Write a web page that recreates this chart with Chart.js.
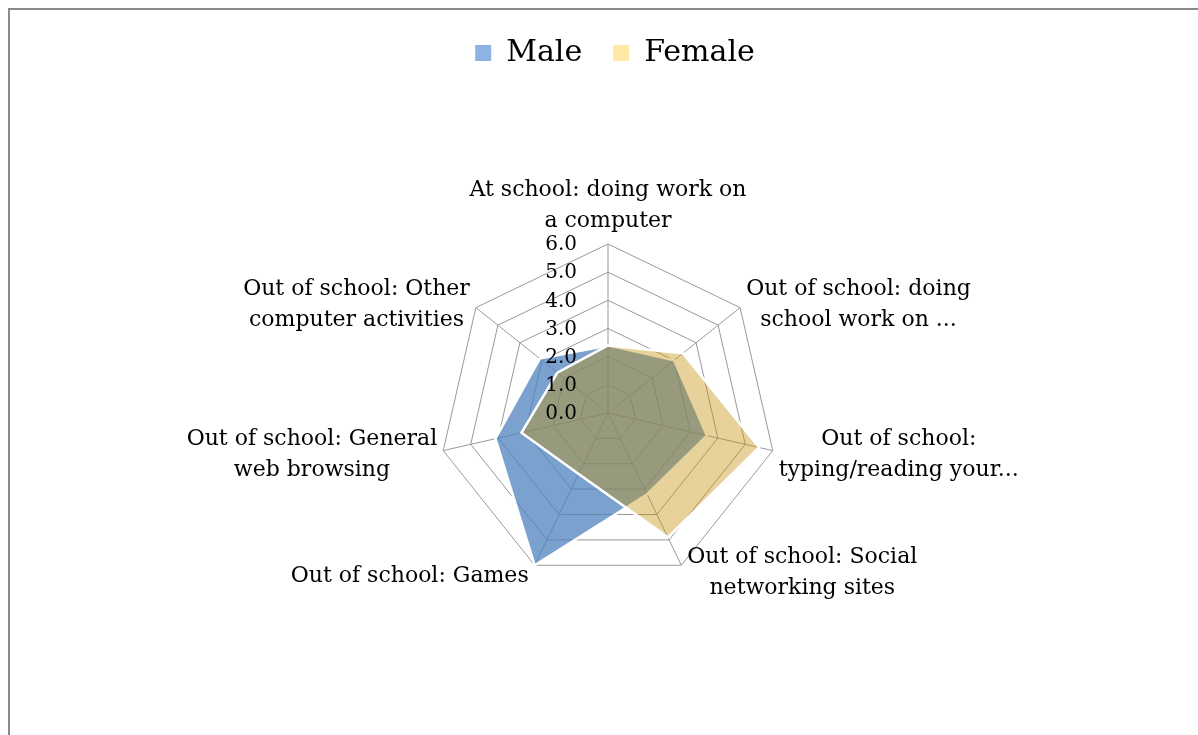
<!DOCTYPE html>
<html><head><meta charset="utf-8">
<script src="https://cdn.jsdelivr.net/npm/chart.js@4.4.0/dist/chart.umd.min.js"></script>
<style>
html,body{margin:0;padding:0;background:#fff;overflow:hidden;width:1198px;height:735px;}
#frame{position:absolute;left:8px;top:8px;width:1200px;height:740px;border-left:2px solid #8a8a8a;border-top:2px solid #8a8a8a;}
#wrap{position:absolute;left:0;top:0;width:1198px;height:735px;}
</style></head><body>
<div id="frame"></div>
<div id="wrap"><canvas id="c"></canvas></div>
<script>
const categories = [
  ['At school: doing work on', 'a computer'],
  ['Out of school: doing', 'school work on ...'],
  ['Out of school:', 'typing/reading your...'],
  ['Out of school: Social', 'networking sites'],
  ['Out of school: Games'],
  ['Out of school: General', 'web browsing'],
  ['Out of school: Other', 'computer activities']
];
const seriesNames = ['Male', 'Female'];
const maleValues = [2.4, 3.0, 3.6, 3.2, 6.0, 4.1, 3.1];
const femaleValues = [2.4, 3.4, 5.5, 4.9, 2.4, 3.15, 2.3];
const tickLabels = ['0.0', '1.0', '2.0', '3.0', '4.0', '5.0', '6.0'];

const legendColors = ['#8eb4e3', '#ffe9a6'];
const labelYOffsets = [-38, -3, 4, 8, 11, 4, -3];
const SERIF = '"DejaVu Serif", serif';

const customLabels = {
  id: 'customLabels',
  afterDraw(chart) {
    const s = chart.scales.r;
    const ctx = chart.ctx;
    ctx.save();
    ctx.fillStyle = '#000';
    ctx.font = '20px ' + SERIF;
    ctx.textAlign = 'right';
    ctx.textBaseline = 'middle';
    s.ticks.forEach((t, i) => {
      const d = s.getDistanceFromCenterForValue(t.value);
      ctx.fillText(tickLabels[i] ?? t.value.toFixed(1), s.xCenter - 31, s.yCenter - d + 1);
    });
    ctx.font = '22px ' + SERIF;
    ctx.textAlign = 'center';
    const lh = 31;
    chart.data.labels.forEach((lines, i) => {
      const p = s.getPointPosition(i, s.drawingArea);
      const ang = s.getIndexAngle(i);
      const sn = Math.sin(ang);
      const w = Math.max(...lines.map(l => ctx.measureText(l).width));
      let cx;
      if (Math.abs(sn) < 0.2) cx = p.x;
      else if (sn > 0) cx = p.x + 6 + w / 2;
      else cx = p.x - 6 - w / 2;
      const cy = p.y + labelYOffsets[i];
      const h = lines.length * lh;
      lines.forEach((l, j) => ctx.fillText(l, cx, cy - h / 2 + lh / 2 + j * lh));
    });
    ctx.restore();
  }
};

new Chart(document.getElementById('c'), {
  type: 'radar',
  data: {
    labels: categories,
    datasets: [
      {
        label: seriesNames[0],
        data: maleValues,
        backgroundColor: 'rgba(79,129,189,0.75)',
        borderColor: '#ffffff',
        borderWidth: 2.5,
        pointRadius: 0,
        order: 2
      },
      {
        label: seriesNames[1],
        data: femaleValues,
        backgroundColor: 'rgba(195,142,5,0.4)',
        borderColor: '#ffffff',
        borderWidth: 2.5,
        pointRadius: 0,
        order: 1
      }
    ]
  },
  options: {
    responsive: true,
    maintainAspectRatio: false,
    animation: false,
    elements: { line: { tension: 0 } },
    layout: { padding: { top: 7, left: 32, right: 0, bottom: 153 } },
    scales: {
      r: {
        min: 0,
        max: 6,
        startAngle: 0,
        ticks: { display: false, stepSize: 1 },
        pointLabels: { display: false },
        grid: { color: '#999999', lineWidth: 1, circular: false },
        angleLines: { color: '#999999', lineWidth: 1 }
      }
    },
    plugins: {
      legend: {
        position: 'top',
        labels: {
          boxWidth: 16,
          boxHeight: 16,
          padding: 31,
          color: '#000',
          font: { family: SERIF, size: 30 },
          generateLabels(chart) {
            return chart.data.datasets.map((ds, i) => ({
              text: ds.label,
              fillStyle: legendColors[i],
              strokeStyle: legendColors[i],
              lineWidth: 0,
              hidden: !chart.isDatasetVisible(i),
              datasetIndex: i
            }));
          }
        }
      },
      title: {
        display: true,
        text: ' ',
        position: 'top',
        weight: 500,
        color: 'rgba(0,0,0,0)',
        font: { size: 10, lineHeight: 1 },
        padding: { top: 0, bottom: 156 }
      },
      subtitle: {
        display: true,
        text: ' ',
        position: 'right',
        color: 'rgba(0,0,0,0)',
        font: { size: 10, lineHeight: 1 },
        padding: { top: 2, bottom: 2 }
      },
      tooltip: { enabled: false }
    }
  },
  plugins: [customLabels]
});
</script>
</body></html>
